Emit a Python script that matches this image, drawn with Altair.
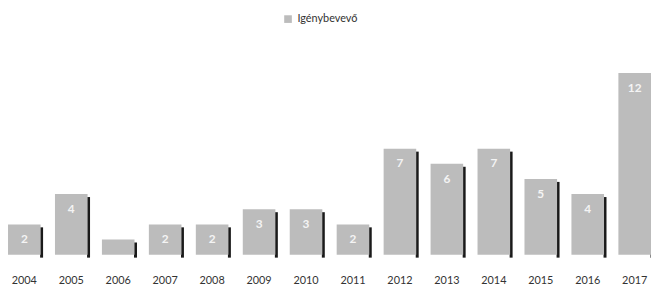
import altair as alt
import pandas as pd

years = ["2004", "2005", "2006", "2007", "2008", "2009", "2010",
         "2011", "2012", "2013", "2014", "2015", "2016", "2017"]
values = [2, 4, 1, 2, 2, 3, 3, 2, 7, 6, 7, 5, 4, 12]
labels = ["2", "4", "", "2", "2", "3", "3", "2", "7", "6", "7", "5", "4", "12"]
series = "Igénybevevő"

df = pd.DataFrame({"year": years, "value": values, "label": labels, "series": series})

x = alt.X("year:N", sort=years, title=None,
          scale=alt.Scale(paddingInner=0.305, paddingOuter=0),
          axis=alt.Axis(labelAngle=0, ticks=False, domain=False, labelPadding=20,
                        labelFontSize=11, labelColor="#333333", labelFont="Lato"))
y = alt.Y("value:Q", title=None, scale=alt.Scale(domain=[0, 12], nice=False),
          axis=None)

base = alt.Chart(df)

shadow = base.mark_bar(size=3, color="#1a1a1a", xOffset=17.5, yOffset=3).encode(x=x, y=y)

bars = base.mark_bar(size=33).encode(
    x=x, y=y,
    color=alt.Color("series:N", scale=alt.Scale(range=["#bcbcbc"]),
                    legend=alt.Legend(title=None, orient="none", legendX=278, legendY=-60,
                                      symbolType="square", symbolSize=60,
                                      labelFontSize=11, labelColor="#333333",
                                      labelFont="Lato", symbolStrokeWidth=0)),
)

text = base.mark_text(baseline="middle", dy=15, fontSize=12, fontWeight="bold",
                      color="#f4f4f4", font="Lato").encode(x=x, y=y, text="label:N")

chart = (shadow + bars + text).properties(
    width=651, height=184,
    autosize=alt.AutoSizeParams(type="none"),
    padding={"left": 0, "top": 64, "right": 0, "bottom": 32},
).configure(background="white").configure_view(stroke=None, strokeWidth=0)

chart.save("out.html", embed_options={"renderer": "svg", "actions": False})
